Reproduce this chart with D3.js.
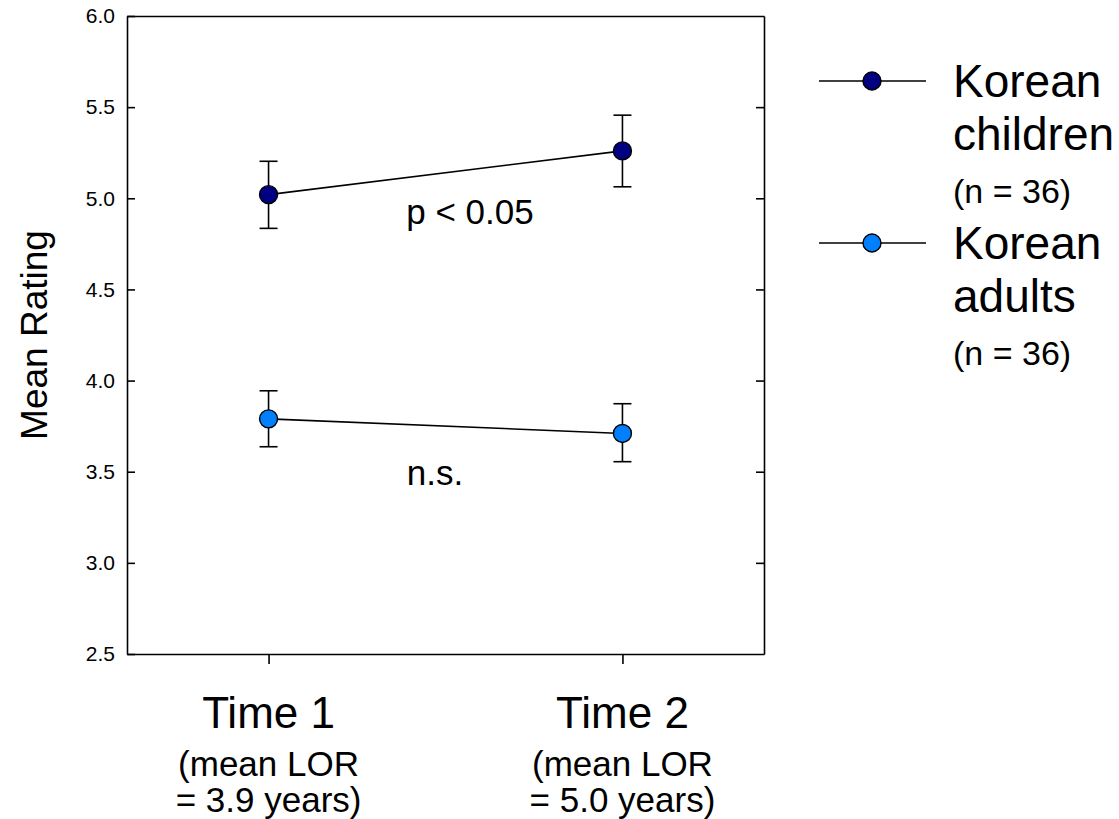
<!DOCTYPE html>
<html>
<head>
<meta charset="utf-8">
<script src="https://cdn.jsdelivr.net/npm/d3@7"></script>
<style>
  html, body { margin: 0; padding: 0; background: #fff; }
  svg { display: block; font-family: "Liberation Sans", Arial, sans-serif; }
</style>
</head>
<body>
<svg id="chart" width="1119" height="819"></svg>
<script>
// Measurement occasions on the x axis
const times = [1, 2];
const timeLabels = ["Time 1", "Time 2"];
const timeNotes = [["(mean LOR", "= 3.9 years)"], ["(mean LOR", "= 5.0 years)"]];

// Mean ratings with error-bar bounds per group
const childrenMean = [5.02, 5.26];
const childrenLow  = [4.835, 5.063];
const childrenHigh = [5.203, 5.456];

const adultsMean = [3.79, 3.71];
const adultsLow  = [3.637, 3.555];
const adultsHigh = [3.944, 3.873];

const groupNames = [["Korean", "children", "(n = 36)"], ["Korean", "adults", "(n = 36)"]];
const groupColors = ["#000080", "#0080ff"];

const yTicks = [2.5, 3.0, 3.5, 4.0, 4.5, 5.0, 5.5, 6.0];
const significance = ["p < 0.05", "n.s."];

const svg = d3.select("#chart");
const plot = { left: 127, right: 764, top: 16, bottom: 654 };

const x = d3.scaleLinear().domain([0.6, 2.4]).range([plot.left, plot.right]);
const y = d3.scaleLinear().domain([2.5, 6.0]).range([plot.bottom, plot.top]);

const axisStroke = 1.6;

// Left axis: ticks point inward
const leftAxis = svg.append("g")
  .attr("transform", `translate(${plot.left},0)`)
  .call(d3.axisLeft(y).tickValues(yTicks).tickFormat(d3.format(".1f")).tickSizeInner(-8).tickSizeOuter(0).tickPadding(12));
leftAxis.selectAll("text").attr("font-size", 21).attr("fill", "#000");

// Right axis: ticks point inward, no labels
svg.append("g")
  .attr("transform", `translate(${plot.right},0)`)
  .call(d3.axisRight(y).tickValues(yTicks.slice(1, -1)).tickFormat("").tickSizeInner(-8).tickSizeOuter(0));

// Bottom axis: ticks point outward
const bottomAxis = svg.append("g")
  .attr("transform", `translate(0,${plot.bottom})`)
  .call(d3.axisBottom(x).tickValues(times).tickFormat("").tickSizeInner(10).tickSizeOuter(0));

// Top border
svg.append("g")
  .attr("transform", `translate(0,${plot.top})`)
  .call(d3.axisTop(x).tickValues([]).tickSizeOuter(0));

svg.selectAll(".domain, .tick line").attr("stroke", "#000").attr("stroke-width", axisStroke);

// Y-axis title
svg.append("text")
  .attr("transform", `translate(47,${(plot.top + plot.bottom) / 2}) rotate(-90)`)
  .attr("text-anchor", "middle")
  .attr("font-size", 37)
  .text("Mean Rating");

// X category labels
times.forEach((t, i) => {
  const g = svg.append("g").attr("text-anchor", "middle");
  g.append("text").attr("x", x(t)).attr("y", 728).attr("font-size", 44).text(timeLabels[i]);
  g.append("text").attr("x", x(t)).attr("y", 776).attr("font-size", 35).text(timeNotes[i][0]);
  g.append("text").attr("x", x(t)).attr("y", 812).attr("font-size", 35).text(timeNotes[i][1]);
});

// Series: line, error bars, markers
const series = [
  { mean: childrenMean, low: childrenLow, high: childrenHigh, color: groupColors[0] },
  { mean: adultsMean, low: adultsLow, high: adultsHigh, color: groupColors[1] }
];
const line = d3.line().x((d, i) => x(times[i])).y(d => y(d));
const capHalf = 9;
const markerR = 9;

series.forEach(s => {
  svg.append("path").datum(s.mean).attr("d", line)
    .attr("fill", "none").attr("stroke", "#000").attr("stroke-width", 1.6);
  const eb = svg.append("g").attr("stroke", "#000").attr("stroke-width", 1.6);
  times.forEach((t, i) => {
    eb.append("line").attr("x1", x(t)).attr("x2", x(t)).attr("y1", y(s.low[i])).attr("y2", y(s.high[i]));
    eb.append("line").attr("x1", x(t) - capHalf).attr("x2", x(t) + capHalf).attr("y1", y(s.low[i])).attr("y2", y(s.low[i]));
    eb.append("line").attr("x1", x(t) - capHalf).attr("x2", x(t) + capHalf).attr("y1", y(s.high[i])).attr("y2", y(s.high[i]));
  });
  svg.append("g").selectAll("circle").data(s.mean).join("circle")
    .attr("cx", (d, i) => x(times[i])).attr("cy", d => y(d)).attr("r", markerR)
    .attr("fill", s.color).attr("stroke", "#000").attr("stroke-width", 1.4);
});

// Significance annotations
svg.append("text").attr("x", 470).attr("y", 224).attr("text-anchor", "middle").attr("font-size", 35).text(significance[0]);
svg.append("text").attr("x", 435).attr("y", 485).attr("text-anchor", "middle").attr("font-size", 35).text(significance[1]);

// Legend
const legendRows = [81, 243];
groupNames.forEach((names, i) => {
  const ly = legendRows[i];
  const g = svg.append("g");
  g.append("line").attr("x1", 819).attr("x2", 926).attr("y1", ly).attr("y2", ly)
    .attr("stroke", "#000").attr("stroke-width", 1.6);
  g.append("circle").attr("cx", 872).attr("cy", ly).attr("r", markerR)
    .attr("fill", groupColors[i]).attr("stroke", "#000").attr("stroke-width", 1.4);
  g.append("text").attr("x", 953).attr("y", ly + 16).attr("font-size", 46).text(names[0]);
  g.append("text").attr("x", 953).attr("y", ly + 69).attr("font-size", 46).text(names[1]);
  g.append("text").attr("x", 953).attr("y", ly + 122).attr("font-size", 34).text(names[2]);
});
</script>
</body>
</html>
